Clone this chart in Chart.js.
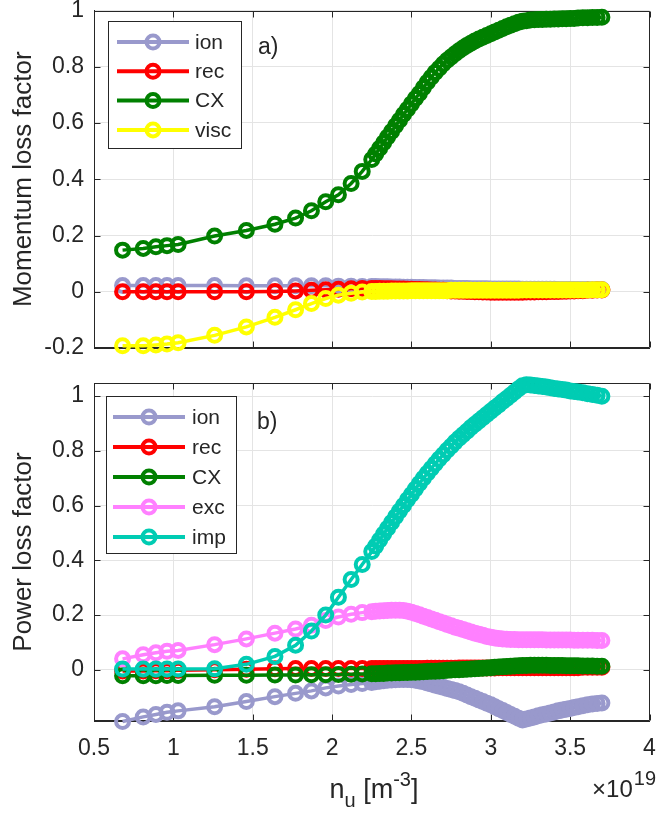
<!DOCTYPE html>
<html>
<head>
<meta charset="utf-8">
<title>Momentum and power loss factors</title>
<script src="https://cdn.jsdelivr.net/npm/chart.js@4.4.1/dist/chart.umd.min.js"></script>
<style>
  html, body { margin: 0; padding: 0; background: #fff; }
  .wrap { position: relative; width: 660px; height: 815px; }
  .wrap canvas { position: absolute; left: 0; top: 0; }
</style>
</head>
<body>
<div class="wrap">
  <canvas id="powChart" width="660" height="815"></canvas>
  <canvas id="momChart" width="660" height="815"></canvas>
</div>
<script>
// ======= Data =======
// upstream density scan, units of 1e19 m^-3
const nU = [
  0.68, 0.81, 0.89, 0.96, 1.03, 1.26, 1.46, 1.64, 1.77, 1.87, 1.96, 2.04, 2.12, 2.19,
  2.25, 2.275, 2.3, 2.325, 2.35, 2.375, 2.4, 2.425, 2.45, 2.475,
  2.5, 2.525, 2.55, 2.575, 2.6, 2.625, 2.65, 2.675, 2.7, 2.725,
  2.75, 2.775, 2.8, 2.825, 2.85, 2.875, 2.9, 2.925, 2.95, 2.975,
  3.0, 3.025, 3.05, 3.075, 3.1, 3.125, 3.15, 3.175, 3.2, 3.225,
  3.25, 3.275, 3.3, 3.325, 3.35, 3.375, 3.4, 3.425, 3.45, 3.475,
  3.5, 3.525, 3.55, 3.58, 3.61, 3.64, 3.67, 3.7
];

const xTicks   = [0.5, 1, 1.5, 2, 2.5, 3, 3.5, 4];
const momTicks = [-0.2, 0, 0.2, 0.4, 0.6, 0.8, 1];
const powTicks = [0, 0.2, 0.4, 0.6, 0.8, 1];

const momNames = ["ion", "rec", "CX", "visc"];
const powNames = ["ion", "rec", "CX", "exc", "imp"];

// momentum loss factors
const momIon = [
  0.022, 0.022, 0.022, 0.022, 0.022, 0.022, 0.021, 0.021, 0.021, 0.021, 0.021, 0.020, 0.020, 0.019,
  0.019, 0.019, 0.018, 0.018, 0.018, 0.017, 0.017, 0.017, 0.016, 0.016,
  0.016, 0.015, 0.015, 0.015, 0.014, 0.014, 0.014, 0.013, 0.013, 0.013,
  0.013, 0.012, 0.012, 0.012, 0.012, 0.011, 0.011, 0.011, 0.011, 0.011,
  0.010, 0.010, 0.010, 0.010, 0.010, 0.010, 0.010, 0.010, 0.009, 0.009,
  0.009, 0.009, 0.009, 0.009, 0.009, 0.009, 0.009, 0.008, 0.008, 0.008,
  0.008, 0.008, 0.008, 0.008, 0.008, 0.008, 0.008, 0.008
];
const momRec = [
  0.000, 0.000, 0.000, 0.000, 0.000, 0.000, 0.000, 0.001, 0.003, 0.005, 0.007, 0.009, 0.011, 0.012,
  0.012, 0.012, 0.012, 0.011, 0.011, 0.011, 0.010, 0.010, 0.010, 0.009,
  0.009, 0.008, 0.008, 0.007, 0.007, 0.006, 0.006, 0.005, 0.005, 0.004,
  0.003, 0.003, 0.002, 0.002, 0.001, 0.001, 0.000, 0.000, -0.001, -0.001,
  -0.002, -0.002, -0.002, -0.002, -0.002, -0.002, -0.002, -0.002, -0.002, -0.001,
  -0.001, -0.001, 0.000, 0.000, 0.000, 0.001, 0.001, 0.001, 0.002, 0.002,
  0.003, 0.003, 0.004, 0.004, 0.005, 0.005, 0.006, 0.006
];
const momCX = [
  0.148, 0.154, 0.160, 0.164, 0.168, 0.198, 0.218, 0.240, 0.262, 0.288, 0.320, 0.345, 0.385, 0.428,
  0.470, 0.490, 0.510, 0.530, 0.550, 0.570, 0.590, 0.610, 0.630, 0.649,
  0.668, 0.687, 0.705, 0.725, 0.745, 0.763, 0.780, 0.795, 0.810, 0.823,
  0.835, 0.846, 0.857, 0.867, 0.876, 0.884, 0.892, 0.899, 0.905, 0.911,
  0.917, 0.924, 0.930, 0.936, 0.942, 0.948, 0.953, 0.958, 0.962, 0.964,
  0.966, 0.967, 0.968, 0.968, 0.969, 0.969, 0.970, 0.970, 0.971, 0.971,
  0.972, 0.972, 0.973, 0.974, 0.974, 0.975, 0.975, 0.976
];
const momVisc = [
  -0.192, -0.192, -0.189, -0.186, -0.181, -0.155, -0.125, -0.091, -0.064, -0.042, -0.024, -0.012, -0.005, -0.001,
  0.001, 0.001, 0.002, 0.002, 0.002, 0.003, 0.003, 0.003, 0.003, 0.003,
  0.004, 0.004, 0.004, 0.004, 0.004, 0.004, 0.004, 0.004, 0.004, 0.004,
  0.005, 0.005, 0.005, 0.005, 0.005, 0.005, 0.005, 0.005, 0.005, 0.005,
  0.005, 0.005, 0.005, 0.005, 0.005, 0.005, 0.005, 0.005, 0.006, 0.006,
  0.006, 0.006, 0.006, 0.006, 0.006, 0.006, 0.006, 0.006, 0.006, 0.006,
  0.006, 0.006, 0.006, 0.006, 0.006, 0.007, 0.007, 0.007
];

// power loss factors
const powIon = [
  -0.189, -0.172, -0.163, -0.155, -0.150, -0.135, -0.116, -0.098, -0.086, -0.077, -0.066, -0.059, -0.054, -0.050,
  -0.046, -0.044, -0.042, -0.040, -0.038, -0.037, -0.036, -0.035, -0.035, -0.035,
  -0.036, -0.038, -0.041, -0.044, -0.048, -0.052, -0.056, -0.060, -0.064, -0.068,
  -0.072, -0.076, -0.080, -0.086, -0.092, -0.098, -0.104, -0.110, -0.116, -0.122,
  -0.128, -0.135, -0.142, -0.149, -0.156, -0.163, -0.170, -0.177, -0.183, -0.180,
  -0.176, -0.172, -0.168, -0.164, -0.161, -0.158, -0.154, -0.150, -0.147, -0.144,
  -0.141, -0.138, -0.135, -0.131, -0.128, -0.125, -0.123, -0.121
];
const powRec = [
  -0.004, -0.004, -0.003, -0.003, -0.002, 0.000, 0.002, 0.004, 0.005, 0.005, 0.005, 0.005, 0.005, 0.005,
  0.005, 0.005, 0.005, 0.005, 0.005, 0.005, 0.005, 0.005, 0.005, 0.005,
  0.005, 0.005, 0.005, 0.005, 0.006, 0.006, 0.006, 0.006, 0.006, 0.006,
  0.006, 0.006, 0.007, 0.007, 0.007, 0.007, 0.007, 0.007, 0.007, 0.007,
  0.007, 0.007, 0.008, 0.008, 0.008, 0.008, 0.008, 0.008, 0.008, 0.008,
  0.008, 0.008, 0.008, 0.008, 0.008, 0.008, 0.008, 0.008, 0.008, 0.008,
  0.008, 0.008, 0.008, 0.009, 0.009, 0.009, 0.009, 0.009
];
const powCX = [
  -0.022, -0.022, -0.022, -0.021, -0.021, -0.020, -0.020, -0.019, -0.019, -0.018, -0.018, -0.017, -0.016, -0.015,
  -0.014, -0.014, -0.013, -0.013, -0.012, -0.012, -0.011, -0.011, -0.010, -0.010,
  -0.009, -0.009, -0.008, -0.007, -0.006, -0.005, -0.005, -0.004, -0.003, -0.002,
  -0.001, 0.000, 0.000, 0.001, 0.002, 0.003, 0.004, 0.005, 0.006, 0.007,
  0.008, 0.009, 0.010, 0.011, 0.012, 0.013, 0.014, 0.015, 0.016, 0.016,
  0.017, 0.017, 0.017, 0.017, 0.017, 0.016, 0.016, 0.016, 0.016, 0.015,
  0.015, 0.015, 0.015, 0.014, 0.014, 0.014, 0.013, 0.013
];
const powExc = [
  0.040, 0.055, 0.062, 0.068, 0.071, 0.092, 0.113, 0.134, 0.149, 0.163, 0.180, 0.193, 0.203, 0.209,
  0.212, 0.214, 0.215, 0.216, 0.217, 0.218, 0.218, 0.218, 0.217, 0.214,
  0.210, 0.206, 0.201, 0.196, 0.191, 0.186, 0.181, 0.176, 0.171, 0.166,
  0.161, 0.156, 0.152, 0.147, 0.143, 0.138, 0.134, 0.130, 0.126, 0.122,
  0.119, 0.116, 0.114, 0.113, 0.112, 0.111, 0.111, 0.110, 0.110, 0.110,
  0.110, 0.110, 0.110, 0.110, 0.109, 0.109, 0.109, 0.109, 0.109, 0.109,
  0.109, 0.108, 0.108, 0.108, 0.108, 0.108, 0.107, 0.107
];
const powImp = [
  0.003, 0.003, 0.003, 0.003, 0.003, 0.004, 0.020, 0.049, 0.090, 0.142, 0.200, 0.265, 0.330, 0.385,
  0.432, 0.452, 0.474, 0.496, 0.517, 0.538, 0.559, 0.580, 0.600, 0.621,
  0.641, 0.661, 0.681, 0.700, 0.718, 0.736, 0.753, 0.770, 0.786, 0.802,
  0.817, 0.832, 0.846, 0.859, 0.872, 0.885, 0.897, 0.909, 0.921, 0.933,
  0.945, 0.957, 0.968, 0.980, 0.991, 1.003, 1.015, 1.027, 1.038, 1.042,
  1.041, 1.039, 1.037, 1.035, 1.033, 1.031, 1.028, 1.026, 1.024, 1.022,
  1.019, 1.017, 1.015, 1.012, 1.009, 1.006, 1.003, 1.000
];

// ======= Styles =======
const FONT = "'Liberation Sans', Arial, Helvetica, sans-serif";
const INK  = "#262626";
const GRID = "#e4e4e4";
const momColors = ["#9999cc", "#ff0000", "#008000", "#ffff00"];
const powColors = ["#9999cc", "#ff0000", "#008000", "#ff80ff", "#00ccb3"];
const LINE_W = 3.5, MARK_R = 6.5, MARK_W = 4;

// ======= Helpers =======
const el = (id) => document.getElementById(id);

function makeDatasets(names, colors, series){
  return names.map((name, i) => ({
    label: name,
    data: nU.map((x, j) => ({ x, y: series[i][j] })),
    borderColor: colors[i],
    backgroundColor: "transparent",
    borderWidth: LINE_W,
    pointRadius: MARK_R,
    pointHoverRadius: MARK_R,
    pointBorderWidth: MARK_W,
    pointBorderColor: colors[i],
    pointBackgroundColor: "transparent",
    tension: 0,
    clip: false,
    order: names.length - i   // later series end up on top
  }));
}

function xScale(showLabels){
  return {
    type: "linear", min: 0.5, max: 4,
    afterBuildTicks: s => { s.ticks = xTicks.map(v => ({ value: v })); },
    afterFit: s => { s.height = showLabels ? 94 : 0; s.paddingLeft = 0; s.paddingRight = 0; },
    grid: { color: GRID, lineWidth: 1, drawTicks: false },
    border: { color: INK, width: 1 },
    ticks: {
      display: showLabels, autoSkip: false, maxRotation: 0, padding: 14,
      color: INK, font: { family: FONT, size: 23 },
      callback: v => String(v)
    }
  };
}

function yScale(min, max, ticks, title){
  return {
    type: "linear", min, max,
    afterBuildTicks: s => { s.ticks = ticks.map(v => ({ value: v })); },
    afterFit: s => { s.width = 94; s.paddingTop = 0; s.paddingBottom = 0; },
    grid: { color: GRID, lineWidth: 1, drawTicks: false },
    border: { color: INK, width: 1 },
    ticks: {
      padding: 10, color: INK, font: { family: FONT, size: 23 },
      callback: v => String(v)
    },
    title: {
      display: true, text: title, color: INK,
      font: { family: FONT, size: 26 }, padding: { top: 8, bottom: 0 }
    }
  };
}

// ======= Plugins =======
// box round the plot area with inward tick marks on all four sides
const framePlugin = {
  id: "frame",
  beforeDatasetsDraw(chart){
    const { ctx, chartArea: a, scales } = chart;
    const L = Math.round(a.left) + 0.5, R = Math.round(a.right) - 0.5;
    const T = Math.round(a.top) + 0.5,  B = Math.round(a.bottom) - 0.5;
    ctx.save();
    ctx.strokeStyle = INK;
    ctx.lineWidth = 1;
    ctx.beginPath();
    ctx.rect(L, T, R - L, B - T);
    scales.x.ticks.forEach(t => {
      const px = Math.round(scales.x.getPixelForValue(t.value)) + 0.5;
      ctx.moveTo(px, B); ctx.lineTo(px, B - 6);
      ctx.moveTo(px, T); ctx.lineTo(px, T + 6);
    });
    scales.y.ticks.forEach(t => {
      const py = Math.round(scales.y.getPixelForValue(t.value)) + 0.5;
      ctx.moveTo(L, py); ctx.lineTo(L + 6, py);
      ctx.moveTo(R, py); ctx.lineTo(R - 6, py);
    });
    ctx.stroke();
    ctx.restore();
  }
};

// legend box with line + marker samples
const boxLegendPlugin = {
  id: "boxLegend",
  afterDatasetsDraw(chart, args, opts){
    const { ctx } = chart;
    ctx.save();
    ctx.fillStyle = "#fff";
    ctx.fillRect(opts.x, opts.y, opts.w, opts.h);
    ctx.strokeStyle = INK;
    ctx.lineWidth = 1;
    ctx.strokeRect(opts.x + 0.5, opts.y + 0.5, opts.w, opts.h);
    ctx.font = `21px ${FONT}`;
    ctx.textBaseline = "middle";
    chart.data.datasets.forEach((ds, i) => {
      const y = opts.row0 + i * opts.rowGap;
      ctx.strokeStyle = ds.borderColor;
      ctx.lineWidth = LINE_W + 0.5;
      ctx.beginPath();
      ctx.moveTo(opts.lineX0, y);
      ctx.lineTo(opts.lineX1, y);
      ctx.stroke();
      ctx.lineWidth = MARK_W;
      ctx.beginPath();
      ctx.arc((opts.lineX0 + opts.lineX1) / 2, y, MARK_R, 0, Math.PI * 2);
      ctx.stroke();
      ctx.fillStyle = INK;
      ctx.fillText(ds.label, opts.textX, y + 1);
    });
    ctx.restore();
  }
};

// "a)" / "b)" panel tags
const tagPlugin = {
  id: "panelTag",
  afterDraw(chart, args, opts){
    const { ctx } = chart;
    ctx.save();
    ctx.fillStyle = INK;
    ctx.font = `23px ${FONT}`;
    ctx.textBaseline = "middle";
    ctx.fillText(opts.text, opts.x, opts.y);
    ctx.restore();
  }
};

// x title with sub/superscripts and the exponent note
const xTitlePlugin = {
  id: "xTitle",
  afterDraw(chart, args, opts){
    if(!opts.show) return;
    const { ctx } = chart;
    const big = `27px ${FONT}`, small = `20px ${FONT}`;
    const parts = [
      { t: "n", f: big, dy: 0 },
      { t: "u", f: small, dy: 9 },
      { t: " [m", f: big, dy: 0 },
      { t: "-3", f: small, dy: -12 },
      { t: "]", f: big, dy: 0 }
    ];
    ctx.save();
    ctx.fillStyle = INK;
    ctx.textBaseline = "alphabetic";
    let total = 0;
    parts.forEach(p => { ctx.font = p.f; p.w = ctx.measureText(p.t).width; total += p.w; });
    let x = opts.cx - total / 2;
    parts.forEach(p => {
      ctx.font = p.f;
      ctx.fillText(p.t, x, opts.baseline + p.dy);
      x += p.w;
    });

    // ×10^19 at the right end
    ctx.font = `20px ${FONT}`;
    const expW = ctx.measureText("19").width;
    ctx.font = `24px ${FONT}`;
    const baseW = ctx.measureText("\u00d710").width;
    const x0 = opts.expRight - expW - baseW - 1;
    ctx.fillText("\u00d710", x0, opts.expBaseline);
    ctx.font = `20px ${FONT}`;
    ctx.fillText("19", x0 + baseW + 1, opts.expBaseline - 12);
    ctx.restore();
  }
};

Chart.register(framePlugin, boxLegendPlugin, tagPlugin, xTitlePlugin);

// ======= Charts =======
const common = {
  responsive: false,
  animation: false,
  events: [],
  devicePixelRatio: 1
};

new Chart(el("momChart"), {
  type: "line",
  data: { datasets: makeDatasets(momNames, momColors, [momIon, momRec, momCX, momVisc]) },
  options: {
    ...common,
    layout: { padding: { top: 10, right: 4, bottom: 467, left: 0 } },
    scales: {
      x: xScale(false),
      y: yScale(-0.2, 1, momTicks, "Momentum loss factor")
    },
    plugins: {
      legend: { display: false },
      tooltip: { enabled: false },
      boxLegend: { x: 108, y: 21, w: 133, h: 127, row0: 42, rowGap: 29.3, lineX0: 117, lineX1: 189, textX: 195 },
      panelTag: { text: "a)", x: 258, y: 48 },
      xTitle: { show: false }
    }
  }
});

new Chart(el("powChart"), {
  type: "line",
  data: { datasets: makeDatasets(powNames, powColors, [powIon, powRec, powCX, powExc, powImp]) },
  options: {
    ...common,
    layout: { padding: { top: 383, right: 4, bottom: 0, left: 0 } },
    scales: {
      x: xScale(true),
      y: yScale(-0.187, 1.048, powTicks, "Power loss factor")
    },
    plugins: {
      legend: { display: false },
      tooltip: { enabled: false },
      boxLegend: { x: 106, y: 396, w: 130, h: 157, row0: 417, rowGap: 30, lineX0: 113, lineX1: 185, textX: 192 },
      panelTag: { text: "b)", x: 257, y: 423 },
      xTitle: { show: true, cx: 374, baseline: 798, expRight: 656, expBaseline: 797 }
    }
  }
});
</script>
</body>
</html>
